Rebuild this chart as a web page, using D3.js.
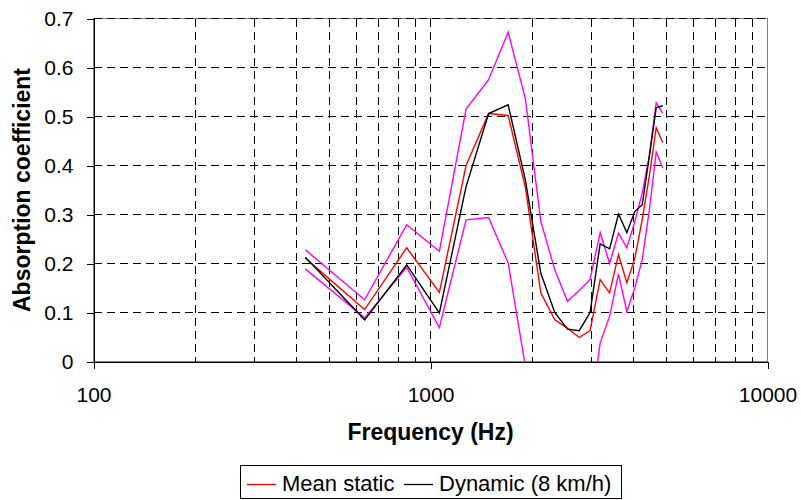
<!DOCTYPE html>
<html>
<head>
<meta charset="utf-8">
<script src="https://cdn.jsdelivr.net/npm/d3@7"></script>
<style>
	html, body { margin: 0; padding: 0; background: #fff; overflow: hidden; }
	svg { display: block; }
	text { font-family: "Liberation Sans", Arial, sans-serif; }
</style>
</head>
<body>
<svg id="chart" width="801" height="500"></svg>
<script>
// Frequencies of the measured points (Hz)
const freqs = [425, 637.5, 850, 1062.5, 1275, 1487.5, 1700, 1912.5, 2125, 2337.5, 2550,
	2762.5, 2975, 3187.5, 3400, 3612.5, 3825, 4037.5, 4250, 4462.5, 4675, 4887.5];

// Absorption coefficient
const meanStatic = [0.211, 0.106, 0.232, 0.141, 0.400, 0.506, 0.502, 0.355, 0.140, 0.085, 0.068,
	0.049, 0.063, 0.167, 0.140, 0.218, 0.161, 0.210, 0.290, 0.380, 0.477, 0.447];
const dynamic = [0.213, 0.085, 0.197, 0.099, 0.357, 0.506, 0.524, 0.370, 0.180, 0.100, 0.066,
	0.063, 0.100, 0.240, 0.230, 0.301, 0.263, 0.306, 0.320, 0.420, 0.518, 0.522];
const upperBand = [0.228, 0.126, 0.279, 0.225, 0.515, 0.575, 0.672, 0.536, 0.286, 0.187, 0.123,
	0.145, 0.167, 0.263, 0.200, 0.262, 0.232, 0.285, 0.344, 0.420, 0.528, 0.507];
const lowerBand = [0.189, 0.089, 0.192, 0.069, 0.289, 0.294, 0.201, -0.010, -0.120, -0.150, -0.130,
	-0.120, -0.116, 0.038, 0.092, 0.179, 0.102, 0.150, 0.208, 0.310, 0.427, 0.395];

// Axis ticks and grid positions
const yTicks = [0, 0.1, 0.2, 0.3, 0.4, 0.5, 0.6, 0.7];
const xTicks = [100, 1000, 10000];
const xGrid = [200, 300, 400, 500, 600, 700, 800, 900, 1000,
	2000, 3000, 4000, 5000, 6000, 7000, 8000, 9000];

const legendNames = ["Mean static", "Dynamic (8 km/h)"];

// Chart size
const margin = {top: 18.5, right: 33.5, bottom: 138.5, left: 93.5};
const svg = d3.select("#chart"),
	  width = +svg.attr("width"),
	  height = +svg.attr("height"),
	  innerWidth = width - margin.left - margin.right,
	  innerHeight = height - margin.top - margin.bottom;

const x = d3.scaleLog().domain([100, 10000]).range([margin.left, margin.left + innerWidth]);
const y = d3.scaleLinear().domain([0, 0.7]).range([margin.top + innerHeight, margin.top]);

// Plot area
svg.append("rect")
	.attr("x", margin.left)
	.attr("y", margin.top)
	.attr("width", innerWidth)
	.attr("height", innerHeight)
	.attr("fill", "#fff")
	.attr("stroke", "#808080");

svg.append("clipPath").attr("id", "plotclip")
	.append("rect")
	.attr("x", margin.left)
	.attr("y", margin.top)
	.attr("width", innerWidth)
	.attr("height", innerHeight);

// Dashed grid
const grid = svg.append("g")
	.attr("stroke", "#000")
	.attr("stroke-width", 1)
	.attr("stroke-dasharray", "8,5")
	.attr("shape-rendering", "crispEdges");

grid.selectAll(".hgrid")
	.data(yTicks.filter(d => d > 0))
	.enter().append("line")
	.attr("x1", margin.left)
	.attr("x2", margin.left + innerWidth)
	.attr("y1", d => y(d))
	.attr("y2", d => y(d));

grid.selectAll(".vgrid")
	.data(xGrid)
	.enter().append("line")
	.attr("x1", d => Math.round(x(d)) + 0.5)
	.attr("x2", d => Math.round(x(d)) + 0.5)
	.attr("y1", margin.top)
	.attr("y2", margin.top + innerHeight);

// Axes
const yAxis = svg.append("g")
	.attr("transform", `translate(${margin.left},0)`)
	.call(d3.axisLeft(y).tickValues(yTicks).tickSize(7).tickSizeOuter(0).tickPadding(13)
		.tickFormat(d => d === 0 ? "0" : d.toFixed(1)));

const xAxis = svg.append("g")
	.attr("transform", `translate(0,${margin.top + innerHeight})`)
	.call(d3.axisBottom(x).tickValues(xTicks).tickSize(7).tickSizeOuter(0).tickPadding(19)
		.tickFormat(d3.format("d")));

[yAxis, xAxis].forEach(a => {
	a.attr("font-family", null).attr("font-size", null);
	a.selectAll("text").style("font-size", "21px").attr("fill", "#000");
	a.selectAll("line, path").attr("stroke", "#000").attr("shape-rendering", "crispEdges");
});

// Data lines
const line = d3.line()
	.x(d => x(d.f))
	.y(d => y(d.v));

const series = [
	{values: upperBand, color: "#ff00ff"},
	{values: lowerBand, color: "#ff00ff"},
	{values: meanStatic, color: "#ff0000"},
	{values: dynamic, color: "#000000"}
];

svg.append("g")
	.attr("clip-path", "url(#plotclip)")
	.selectAll("path")
	.data(series)
	.enter().append("path")
	.attr("d", s => line(s.values.map((v, i) => ({f: freqs[i], v: v}))))
	.attr("fill", "none")
	.attr("stroke", s => s.color)
	.attr("stroke-width", 1.4);

// Axis titles
svg.append("text")
	.text("Frequency (Hz)")
	.attr("x", margin.left + innerWidth / 2)
	.attr("y", 440)
	.style("text-anchor", "middle")
	.style("font-size", "23px")
	.style("font-weight", "bold");

svg.append("text")
	.text("Absorption coefficient")
	.attr("transform", `translate(30,${margin.top + innerHeight / 2}) rotate(-90)`)
	.style("text-anchor", "middle")
	.style("font-size", "23px")
	.style("font-weight", "bold");

// Legend
const legend = svg.append("g");
legend.append("rect")
	.attr("x", 240.5)
	.attr("y", 465.5)
	.attr("width", 381)
	.attr("height", 33)
	.attr("fill", "#fff")
	.attr("stroke", "#000");

const legendItems = [
	{name: legendNames[0], color: "#ff0000", x: 247},
	{name: legendNames[1], color: "#000000", x: 404}
];

legendItems.forEach(item => {
	legend.append("line")
		.attr("x1", item.x)
		.attr("x2", item.x + 29)
		.attr("y1", 484.5)
		.attr("y2", 484.5)
		.attr("stroke", item.color)
		.attr("stroke-width", 1.3);
	legend.append("text")
		.text(item.name)
		.attr("x", item.x + 35)
		.attr("y", 491)
		.style("font-size", "22px");
});
</script>
</body>
</html>
